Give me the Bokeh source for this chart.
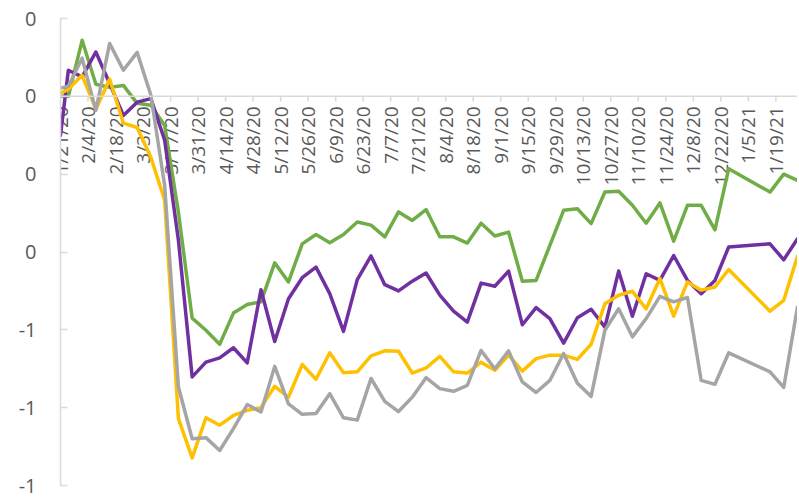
import pandas as pd
from math import pi
from bokeh.plotting import figure
from bokeh.models import Range1d, LinearAxis, FixedTicker, Span, ColumnDataSource
from bokeh.core.properties import value
from bokeh.embed import file_html
from bokeh.resources import INLINE

# ---- data ----
dates = ["2020-01-21", "2020-01-25", "2020-02-01", "2020-02-08", "2020-02-15", "2020-02-22",
         "2020-02-29", "2020-03-07", "2020-03-14", "2020-03-21", "2020-03-28", "2020-04-04",
         "2020-04-11", "2020-04-18", "2020-04-25", "2020-05-02", "2020-05-09", "2020-05-16",
         "2020-05-23", "2020-05-30", "2020-06-06", "2020-06-13", "2020-06-20", "2020-06-27",
         "2020-07-04", "2020-07-11", "2020-07-18", "2020-07-25", "2020-08-01", "2020-08-08",
         "2020-08-15", "2020-08-22", "2020-08-29", "2020-09-05", "2020-09-12", "2020-09-19",
         "2020-09-26", "2020-10-03", "2020-10-10", "2020-10-17", "2020-10-24", "2020-10-31",
         "2020-11-07", "2020-11-14", "2020-11-21", "2020-11-28", "2020-12-05", "2020-12-12",
         "2020-12-19", "2020-12-26", "2021-01-16", "2021-01-23", "2021-01-30"]

green = [0.000, 0.000, 0.144, 0.031, 0.023, 0.028, -0.018, -0.023, -0.075, -0.298,
         -0.570, -0.601, -0.637, -0.557, -0.535, -0.528, -0.428, -0.477, -0.379, -0.355,
         -0.376, -0.355, -0.323, -0.331, -0.361, -0.297, -0.319, -0.291, -0.361, -0.361,
         -0.377, -0.326, -0.359, -0.349, -0.475, -0.473, -0.383, -0.293, -0.289, -0.327,
         -0.246, -0.244, -0.280, -0.326, -0.274, -0.372, -0.280, -0.280, -0.343, -0.186,
         -0.246, -0.200, -0.216]

purple = [-0.100, 0.067, 0.050, 0.114, 0.033, -0.049, -0.015, -0.006, -0.113, -0.370,
          -0.721, -0.683, -0.672, -0.646, -0.685, -0.497, -0.630, -0.520, -0.466, -0.439,
          -0.507, -0.604, -0.471, -0.410, -0.484, -0.500, -0.475, -0.454, -0.511, -0.552,
          -0.580, -0.480, -0.488, -0.449, -0.587, -0.543, -0.571, -0.634, -0.569, -0.547,
          -0.593, -0.449, -0.565, -0.456, -0.473, -0.409, -0.473, -0.507, -0.473, -0.387,
          -0.379, -0.420, -0.366]

yellow = [0.008, 0.018, 0.054, -0.033, 0.044, -0.069, -0.080, -0.157, -0.267, -0.828,
          -0.929, -0.826, -0.845, -0.820, -0.807, -0.800, -0.745, -0.773, -0.689, -0.727,
          -0.659, -0.710, -0.708, -0.667, -0.654, -0.655, -0.711, -0.698, -0.668, -0.708,
          -0.711, -0.683, -0.704, -0.665, -0.706, -0.674, -0.665, -0.665, -0.676, -0.637,
          -0.533, -0.511, -0.501, -0.546, -0.468, -0.565, -0.477, -0.498, -0.490, -0.445,
          -0.552, -0.524, -0.411]

gray = [0.021, 0.026, 0.098, -0.036, 0.136, 0.067, 0.113, 0.003, -0.229, -0.747,
        -0.880, -0.877, -0.910, -0.854, -0.792, -0.811, -0.694, -0.790, -0.817, -0.815,
        -0.764, -0.826, -0.832, -0.725, -0.784, -0.810, -0.773, -0.723, -0.751, -0.758,
        -0.743, -0.653, -0.700, -0.654, -0.734, -0.761, -0.730, -0.661, -0.737, -0.771,
        -0.601, -0.546, -0.618, -0.571, -0.514, -0.528, -0.517, -0.730, -0.740, -0.659,
        -0.708, -0.748, -0.541]

x_tick_labels = ["1/21/20", "2/4/20", "2/18/20", "3/3/20", "3/17/20", "3/31/20", "4/14/20",
                 "4/28/20", "5/12/20", "5/26/20", "6/9/20", "6/23/20", "7/7/20", "7/21/20",
                 "8/4/20", "8/18/20", "9/1/20", "9/15/20", "9/29/20", "10/13/20", "10/27/20",
                 "11/10/20", "11/24/20", "12/8/20", "12/22/20", "1/5/21", "1/19/21"]

y_ticks = [0.2, 0.0, -0.2, -0.4, -0.6, -0.8, -1.0]
y_tick_labels = ["0", "0", "0", "0", "-1", "-1", "-1"]

# ---- figure ----
x = pd.to_datetime(dates)
tick_x = pd.to_datetime(x_tick_labels, format="%m/%d/%y")

FONT = "Open Sans"
LABEL_COLOR = "#595959"
AXIS_COLOR = "#d9d9d9"

p = figure(width=797, height=497, output_backend="svg", toolbar_location=None,
           x_axis_type="datetime", x_axis_location=None, y_axis_location=None,
           x_range=Range1d(x[0], x[-1]), y_range=Range1d(-1.0, 0.2),
           min_border_left=60, min_border_right=0, min_border_top=18, min_border_bottom=12)
p.outline_line_color = None
p.xgrid.visible = False
p.ygrid.visible = False
p.background_fill_color = "white"
p.border_fill_color = "white"

yaxis = LinearAxis(ticker=FixedTicker(ticks=y_ticks),
                   major_label_overrides={t: l for t, l in zip(y_ticks, y_tick_labels)})
yaxis.axis_line_color = AXIS_COLOR
yaxis.axis_line_width = 1.5
yaxis.major_tick_line_color = AXIS_COLOR
yaxis.major_tick_line_width = 1.5
yaxis.major_tick_in = 7
yaxis.major_tick_out = 0
yaxis.minor_tick_line_color = None
yaxis.major_label_text_font = FONT
yaxis.major_label_text_font_size = "20px"
yaxis.major_label_text_color = LABEL_COLOR
yaxis.major_label_standoff = 24
p.add_layout(yaxis, "left")

# category axis crossing at zero
p.add_layout(Span(location=0, dimension="width", line_color=AXIS_COLOR, line_width=1.5))
tick_src = ColumnDataSource(dict(x=tick_x, y0=[0.0] * len(tick_x), y1=[-0.013] * len(tick_x),
                                 lab=x_tick_labels))
p.segment(x0="x", y0="y0", x1="x", y1="y1", source=tick_src, line_color=AXIS_COLOR, line_width=1.5)
p.text(x="x", y="y0", text="lab", source=tick_src, angle=pi / 2, text_align="right",
       text_baseline="middle", y_offset=10, text_font=value(FONT), text_font_size="19px",
       text_color=LABEL_COLOR)

series = [(green, "#70AD47"), (purple, "#7030A0"), (yellow, "#FFC000"), (gray, "#A5A5A5")]
for vals, col in series:
    p.line(x, vals, line_color=col, line_width=3.5, line_join="round", line_cap="round")

open("out.html", "w").write(file_html(p, INLINE))
